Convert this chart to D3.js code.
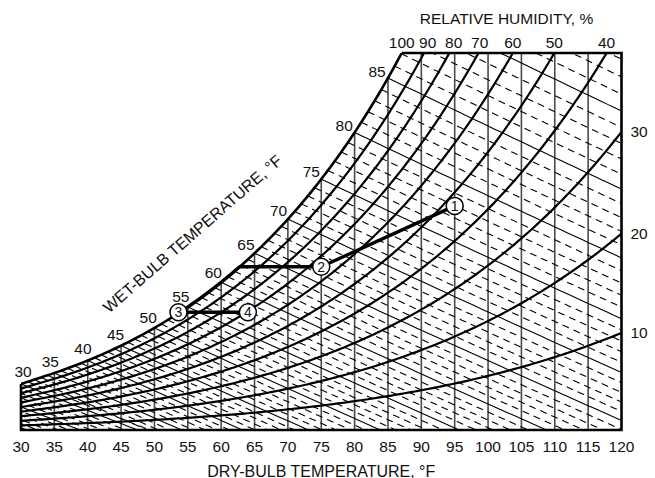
<!DOCTYPE html>
<html>
<head>
<meta charset="utf-8">
<script src="https://cdn.jsdelivr.net/npm/d3@7"></script>
<style>
  body { margin: 0; background: #fff; }
  svg text { font-family: "Liberation Sans", Arial, Helvetica, sans-serif; fill: #111; }
</style>
</head>
<body>
<div id="chart"></div>
<script>
// axis / label values
const dryBulbTicks = [30, 35, 40, 45, 50, 55, 60, 65, 70, 75, 80, 85, 90, 95, 100, 105, 110, 115, 120];
const rhCurves = [10, 20, 30, 40, 50, 60, 70, 80, 90];
const rhTopLabels = [100, 90, 80, 70, 60, 50, 40];
const rhRightLabels = [30, 20, 10];
const wetBulbLabels = [30, 35, 40, 45, 50, 55, 60, 65, 70, 75, 80, 85];

// process points (dry-bulb °F, humidity ratio lb/lb)
const processIds = ["1", "2", "3", "4"];
const processDryBulb = [95, 75, 53.6, 64];
const processHumRatio = [0.01675, 0.0122, 0.0088, 0.0088];

const width = 655, height = 478;
const margin = {top: 53, right: 33.5, bottom: 48, left: 21};
const W_TOP = 0.02818;
const P_ATM = 14.696;

// psychrometric helpers (ASHRAE, IP units)
function pws(tF) {
    const T = tF + 459.67;
    if (tF < 32) {
        return Math.exp(-1.0214165e4 / T - 4.8932428 - 5.3765794e-3 * T + 1.9202377e-7 * T * T
            + 3.5575832e-10 * T ** 3 - 9.0344688e-14 * T ** 4 + 4.1635019 * Math.log(T));
    }
    return Math.exp(-1.0440397e4 / T - 1.1294650e1 - 2.7022355e-2 * T + 1.2890360e-5 * T * T
        - 2.4780681e-9 * T ** 3 + 6.5459673 * Math.log(T));
}
const humRatio = pv => 0.621945 * pv / (P_ATM - pv);
const wSat = t => humRatio(pws(t));
const wRH = (t, rh) => humRatio(rh / 100 * pws(t));
function wWetBulb(t, twb) {
    const ws = wSat(twb);
    if (twb >= 32) return ((1093 - 0.556 * twb) * ws - 0.240 * (t - twb)) / (1093 + 0.444 * t - twb);
    return ((1220 - 0.04 * twb) * ws - 0.240 * (t - twb)) / (1220 + 0.444 * t - 0.48 * twb);
}
function solveT(fn, target) {
    let lo = 0, hi = 200;
    for (let i = 0; i < 60; i++) {
        const mid = (lo + hi) / 2;
        if (fn(mid) < target) lo = mid; else hi = mid;
    }
    return (lo + hi) / 2;
}
function sample(t0, t1, step, fn) {
    const pts = [];
    for (let t = t0; t < t1; t += step) pts.push([t, fn(t)]);
    pts.push([t1, fn(t1)]);
    return pts;
}

const x = d3.scaleLinear().domain([30, 120]).range([margin.left, width - margin.right]);
const y = d3.scaleLinear().domain([0, W_TOP]).range([height - margin.bottom, margin.top]);
const line = d3.line().x(d => x(d[0])).y(d => y(d[1]));

const svg = d3.select("#chart").append("svg")
    .attr("width", width)
    .attr("height", height);

svg.append("defs").append("clipPath")
    .attr("id", "plot-clip")
    .append("rect")
    .attr("x", x(30))
    .attr("y", y(W_TOP))
    .attr("width", x(120) - x(30))
    .attr("height", y(0) - y(W_TOP));

const plot = svg.append("g").attr("clip-path", "url(#plot-clip)");

const tSatTop = solveT(wSat, W_TOP);

// dry-bulb verticals
plot.selectAll("line.db")
    .data(dryBulbTicks.filter(t => t > 30 && t < 120))
    .enter().append("line")
    .attr("class", "db")
    .attr("x1", d => x(d)).attr("x2", d => x(d))
    .attr("y1", y(0))
    .attr("y2", d => y(Math.min(wSat(d), W_TOP)))
    .attr("stroke", "#4a4a4a")
    .attr("stroke-width", 1.6);

// wet-bulb lines, every 1 °F (dashed) and every 5 °F (solid)
const wetBulbGrid = d3.range(10, 97);
plot.selectAll("path.wb")
    .data(wetBulbGrid)
    .enter().append("path")
    .attr("class", "wb")
    .attr("d", twb => line(sample(twb, 121, 1, t => wWetBulb(t, twb))))
    .attr("fill", "none")
    .attr("stroke", "#000")
    .attr("stroke-width", 1.1)
    .attr("stroke-dasharray", twb => twb % 5 === 0 ? null : "7,5");

// relative humidity curves
plot.selectAll("path.rh")
    .data(rhCurves)
    .enter().append("path")
    .attr("class", "rh")
    .attr("d", rh => line(sample(30, 120, 0.5, t => wRH(t, rh))))
    .attr("fill", "none")
    .attr("stroke", "#000")
    .attr("stroke-width", 2.2);

// saturation curve
plot.append("path")
    .attr("d", line(sample(30, tSatTop, 0.5, wSat)))
    .attr("fill", "none")
    .attr("stroke", "#000")
    .attr("stroke-width", 2.6);

// frame
svg.append("path")
    .attr("d", `M${x(30)},${y(wSat(30))}V${y(0)}H${x(120)}V${y(W_TOP)}H${x(tSatTop)}`)
    .attr("fill", "none")
    .attr("stroke", "#000")
    .attr("stroke-width", 2.6)
    .attr("stroke-linejoin", "miter");

// process line 1 -> 2 -> along saturation -> 3 -> 4
const tKnee = solveT(wSat, processHumRatio[1]);
const satLeg = sample(processDryBulb[2], tKnee, 0.5, wSat).reverse();
const processPath = [[processDryBulb[0], processHumRatio[0]], [processDryBulb[1], processHumRatio[1]]]
    .concat(satLeg)
    .concat([[processDryBulb[2], processHumRatio[2]], [processDryBulb[3], processHumRatio[3]]]);
svg.append("path")
    .attr("d", line(processPath))
    .attr("fill", "none")
    .attr("stroke", "#000")
    .attr("stroke-width", 3.4)
    .attr("stroke-linejoin", "round");

const pts = svg.selectAll("g.pt")
    .data(processIds)
    .enter().append("g")
    .attr("class", "pt")
    .attr("transform", (d, i) => `translate(${x(processDryBulb[i])},${y(processHumRatio[i])})`);
pts.append("circle")
    .attr("r", 8.5)
    .attr("fill", "#fff")
    .attr("stroke", "#000")
    .attr("stroke-width", 1.5);
pts.append("text")
    .attr("text-anchor", "middle")
    .attr("dy", "0.36em")
    .style("font-size", "14px")
    .text(d => d);

// bottom axis labels
svg.selectAll("text.xt")
    .data(dryBulbTicks)
    .enter().append("text")
    .attr("class", "xt")
    .attr("x", d => x(d))
    .attr("y", 451.5)
    .attr("text-anchor", "middle")
    .style("font-size", "15.5px")
    .text(d => d);

svg.append("text")
    .attr("x", (x(30) + x(120)) / 2)
    .attr("y", 476.5)
    .attr("text-anchor", "middle")
    .style("font-size", "16px")
    .text("DRY-BULB TEMPERATURE, °F");

// relative humidity labels on top (kept apart) and on the right
const topLabelX = [];
rhTopLabels.forEach((rh, i) => {
    const cx = x(solveT(t => wRH(t, rh), W_TOP));
    topLabelX.push(i === 0 ? cx : Math.max(cx, topLabelX[i - 1] + 26));
});
svg.selectAll("text.rht")
    .data(rhTopLabels)
    .enter().append("text")
    .attr("class", "rht")
    .attr("x", (d, i) => topLabelX[i])
    .attr("y", 48.3)
    .attr("text-anchor", "middle")
    .style("font-size", "15.5px")
    .text(d => d);

svg.selectAll("text.rhr")
    .data(rhRightLabels)
    .enter().append("text")
    .attr("class", "rhr")
    .attr("x", x(120) + 9)
    .attr("y", d => y(wRH(120, d)))
    .attr("dy", "0.35em")
    .style("font-size", "15.5px")
    .text(d => d);

svg.append("text")
    .attr("x", 506.5)
    .attr("y", 24)
    .attr("text-anchor", "middle")
    .style("font-size", "15.5px")
    .text("RELATIVE HUMIDITY, %");

// wet-bulb labels along saturation curve
svg.selectAll("text.wbl")
    .data(wetBulbLabels)
    .enter().append("text")
    .attr("class", "wbl")
    .attr("transform", d => {
        const dx = x(d + 0.5) - x(d - 0.5);
        const dy = y(wSat(d + 0.5)) - y(wSat(d - 0.5));
        const len = Math.hypot(dx, dy);
        const px = x(d) + 12.5 * dy / len;
        const py = y(wSat(d)) - 12.5 * dx / len;
        return `translate(${Math.max(px, 23)},${py})`;
    })
    .attr("text-anchor", "middle")
    .attr("dy", "0.35em")
    .style("font-size", "15.5px")
    .text(d => d);

svg.append("text")
    .attr("transform", "translate(196,238) rotate(-41)")
    .attr("text-anchor", "middle")
    .style("font-size", "16px")
    .text("WET-BULB TEMPERATURE, °F");
</script>
</body>
</html>
